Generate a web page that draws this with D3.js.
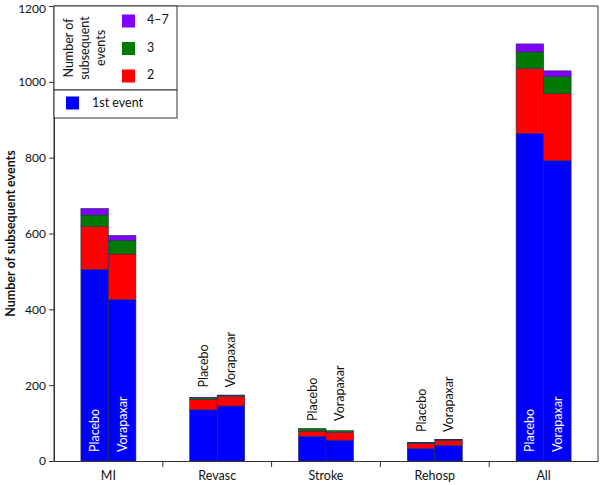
<!DOCTYPE html>
<html><head><meta charset="utf-8">
<script src="https://cdn.jsdelivr.net/npm/d3@7"></script>
<style>
body{margin:0;background:#fff;}
text{font-family:"Lato","Open Sans",sans-serif;fill:#111;}
</style></head>
<body><svg id="c" width="600" height="485"></svg>
<script>
const categories = ["MI","Revasc","Stroke","Rehosp","All"];
const arms = ["Placebo","Vorapaxar"];
const layers = ["1st event","2","3","4–7"];
// values per category: [placebo, vorapaxar]
const firstEvent = [[505,426],[135,145],[65,55],[33,41],[864,792]];
const secondEvent = [[113,120],[28,25],[14,21],[13,13],[171,177]];
const thirdEvent = [[31,36],[4,3],[7,4],[2,2],[44,45]];
const fourToSeven = [[17,13],[1,1],[0,0],[1,1],[21,15]];
const insideLabels = ["MI","All"];
const yTicks = [0,200,400,600,800,1000,1200];
const colors = ["#0000ff","#ff0000","#007a00","#8000ff"];

const svg = d3.select("#c");
const L=54,R=598,T=6,B=461;
const x0 = d3.scaleBand().domain(categories).range([L,R]).padding(0);
const bw = 27.5;
const x1 = d3.scaleBand().domain(arms).range([x0.bandwidth()/2-bw, x0.bandwidth()/2+bw]).padding(0);
const y = d3.scaleLinear().domain([0,1200]).range([B,T]);

const layerData=[firstEvent,secondEvent,thirdEvent,fourToSeven];
// bars
categories.forEach((cat,ci)=>{
  arms.forEach((arm,ai)=>{
    let acc=0;
    const g=svg.append("g");
    layerData.forEach((ld,li)=>{
      const v=ld[ci][ai];
      if(v<=0) return;
      g.append("rect")
        .attr("x",x0(cat)+x1(arm))
        .attr("width",x1.bandwidth())
        .attr("y",y(acc+v))
        .attr("height",y(acc)-y(acc+v))
        .attr("fill",colors[li])
        .attr("stroke","#2a2a55").attr("stroke-width",0.6);
      acc+=v;
    });
  });
  // arm labels
  const tops = arms.map((a,ai)=>layerData.reduce((s,ld)=>s+ld[ci][ai],0));
  arms.forEach((arm,ai)=>{
    const cx=x0(cat)+x1(arm)+x1.bandwidth()/2;
    if(insideLabels.includes(cat)){
      svg.append("text").attr("transform",`translate(${cx},${B-9}) rotate(-90)`)
        .attr("dominant-baseline","central").attr("font-size",12.5)
        .style("fill","#fff").text(arm);
    } else {
      const yb = y(d3.max(tops))-7.5;
      svg.append("text").attr("transform",`translate(${cx},${yb}) rotate(-90)`)
        .attr("dominant-baseline","central").attr("font-size",12.5)
        .text(arm);
    }
  });
});

// frame
svg.append("path").attr("d",`M${L},${B}V${T}H${R}V${B}`).attr("fill","none").attr("stroke","#333").attr("stroke-width",1);
// y axis
const ya=svg.append("g").attr("transform",`translate(${L},0)`).call(d3.axisLeft(y).tickValues(yTicks).tickFormat(d3.format("d")).tickSize(5).tickPadding(3));
ya.select(".domain").attr("stroke","#333");
ya.selectAll("line").attr("stroke","#333");
ya.selectAll("text").attr("font-size",12).style("font-family","Lato,sans-serif");
ya.selectAll(".tick").filter(d=>d===1200).select("text").attr("dy","0.5em");
// x axis
const xa=svg.append("g").attr("transform",`translate(0,${B})`).call(d3.axisBottom(x0).tickSize(0).tickPadding(10));
xa.select(".domain").attr("stroke","#333");
xa.selectAll("text").attr("font-size",12.5).style("font-family","Lato,sans-serif");
// boundary ticks
svg.selectAll(".bt").data(categories.slice(1)).enter().append("line")
  .attr("x1",d=>x0(d)).attr("x2",d=>x0(d)).attr("y1",B).attr("y2",B+6).attr("stroke","#333");

// y title
svg.append("text").attr("transform",`translate(10,${(T+B)/2}) rotate(-90)`)
  .attr("text-anchor","middle").attr("dominant-baseline","central")
  .attr("font-size",12.5).attr("font-weight","bold").text("Number of subsequent events");

// legend
const lg=svg.append("g");
lg.append("rect").attr("x",L).attr("y",T).attr("width",123).attr("height",84).attr("fill","#fff").attr("stroke","#333");
lg.append("rect").attr("x",L).attr("y",T+84).attr("width",123).attr("height",28).attr("fill","#fff").attr("stroke","#333");
const tl=["Number of","subsequent","events"];
tl.forEach((t,i)=>{
  lg.append("text").attr("transform",`translate(${68+i*16},48) rotate(-90)`)
    .attr("text-anchor","middle").attr("dominant-baseline","central").attr("font-size",12.5).text(t);
});
const legRows=[{li:3,y:14.5},{li:2,y:42},{li:1,y:69.5}];
legRows.forEach(r=>{
  lg.append("rect").attr("x",122).attr("y",r.y).attr("width",13).attr("height",13).attr("fill",colors[r.li]);
  lg.append("text").attr("x",147).attr("y",r.y+5).attr("dominant-baseline","central").attr("font-size",12.5).text(layers[r.li]);
});
lg.append("rect").attr("x",66).attr("y",96.5).attr("width",13).attr("height",13).attr("fill",colors[0]);
lg.append("text").attr("x",92).attr("y",102.5).attr("dominant-baseline","central").attr("font-size",12.5).text(layers[0]);
</script></body></html>
